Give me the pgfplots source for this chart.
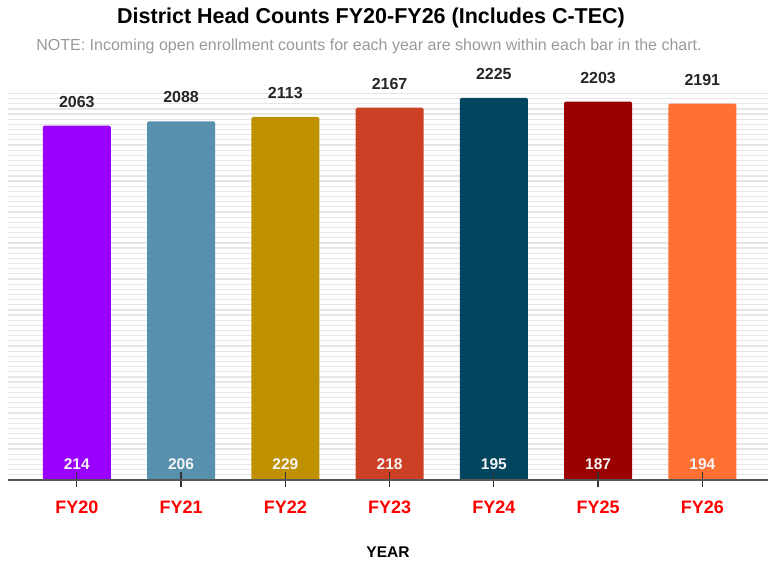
\documentclass[border=0pt]{standalone}
\usepackage{pgfplots}
\pgfplotsset{compat=1.18}
\usepackage{fontspec}
\setmainfont{Liberation Sans}
\definecolor{c1}{HTML}{9900FF}
\definecolor{c2}{HTML}{5891AE}
\definecolor{c3}{HTML}{BF9000}
\definecolor{c4}{HTML}{CC4125}
\definecolor{c5}{HTML}{01455F}
\definecolor{c6}{HTML}{990000}
\definecolor{c7}{HTML}{FF7133}
\definecolor{gridc}{HTML}{E6E6E6}
\definecolor{axc}{HTML}{555555}
\pgfplotsset{
  common/.style={at={(8pt,84pt)}, anchor=south west,
    scale only axis, width=760pt, height=391pt,
    xmin=-0.66, xmax=6.63, ymin=0, ymax=2276, clip=false},
  barst/.style={ybar, bar shift=0pt, bar width=0.652, draw=none, fill=#1, rounded corners=1.5pt,
    nodes near coords, point meta=explicit symbolic,
    nodes near coords style={font=\fontsize{16}{18}\selectfont\bfseries, text=black!85, anchor=center, yshift=24pt}},
}
\begin{document}
\begin{tikzpicture}
\useasboundingbox (0,0) rectangle (768pt,564pt);
\node[font=\fontsize{21.5}{24}\selectfont\bfseries, text=black] at (371pt,546pt) {District Head Counts FY20-FY26 (Includes C-TEC)};
\node[font=\fontsize{16}{18}\selectfont, text=black!40] at (369pt,518pt) {NOTE: Incoming open enrollment counts for each year are shown within each bar in the chart.};
\begin{axis}[
  common,
  axis x line=none, axis y line*=left,
  y axis line style={draw=none},
  ytick={0,30,...,2270}, yticklabels={}, major y tick style={draw=none},
  ymajorgrids, grid style={draw=gridc, line width=1.2pt},
]
\addplot[barst=c1] coordinates {(0,2063) [2063]};
\addplot[barst=c2] coordinates {(1,2088) [2088]};
\addplot[barst=c3] coordinates {(2,2113) [2113]};
\addplot[barst=c4] coordinates {(3,2167) [2167]};
\addplot[barst=c5] coordinates {(4,2225) [2225]};
\addplot[barst=c6] coordinates {(5,2203) [2203]};
\addplot[barst=c7] coordinates {(6,2191) [2191]};
\addplot[only marks, mark=none, nodes near coords, point meta=explicit symbolic,
  nodes near coords style={font=\fontsize{15.5}{17}\selectfont\bfseries, text=white!92!gray, anchor=center, yshift=16pt}]
  table[meta=lab] {
x y lab
0 0 214
1 0 206
2 0 229
3 0 218
4 0 195
5 0 187
6 0 194
};
\end{axis}
\begin{axis}[
  common,
  axis x line*=bottom, axis y line=none,
  x axis line style={draw=axc, line width=2pt},
  xtick={0,...,6},
  xticklabels={FY20,FY21,FY22,FY23,FY24,FY25,FY26},
  major x tick style={draw=black!80, line width=1.2pt},
  major tick length=15pt, tick align=center,
  xticklabel style={font=\fontsize{18}{20}\selectfont\bfseries, text=red, anchor=center, yshift=-20pt},
  xlabel={YEAR},
  xlabel style={font=\fontsize{15.5}{17}\selectfont\bfseries, anchor=center, at={(axis description cs:0.5,0)}, yshift=-72pt},
]
\end{axis}
\end{tikzpicture}
\end{document}
